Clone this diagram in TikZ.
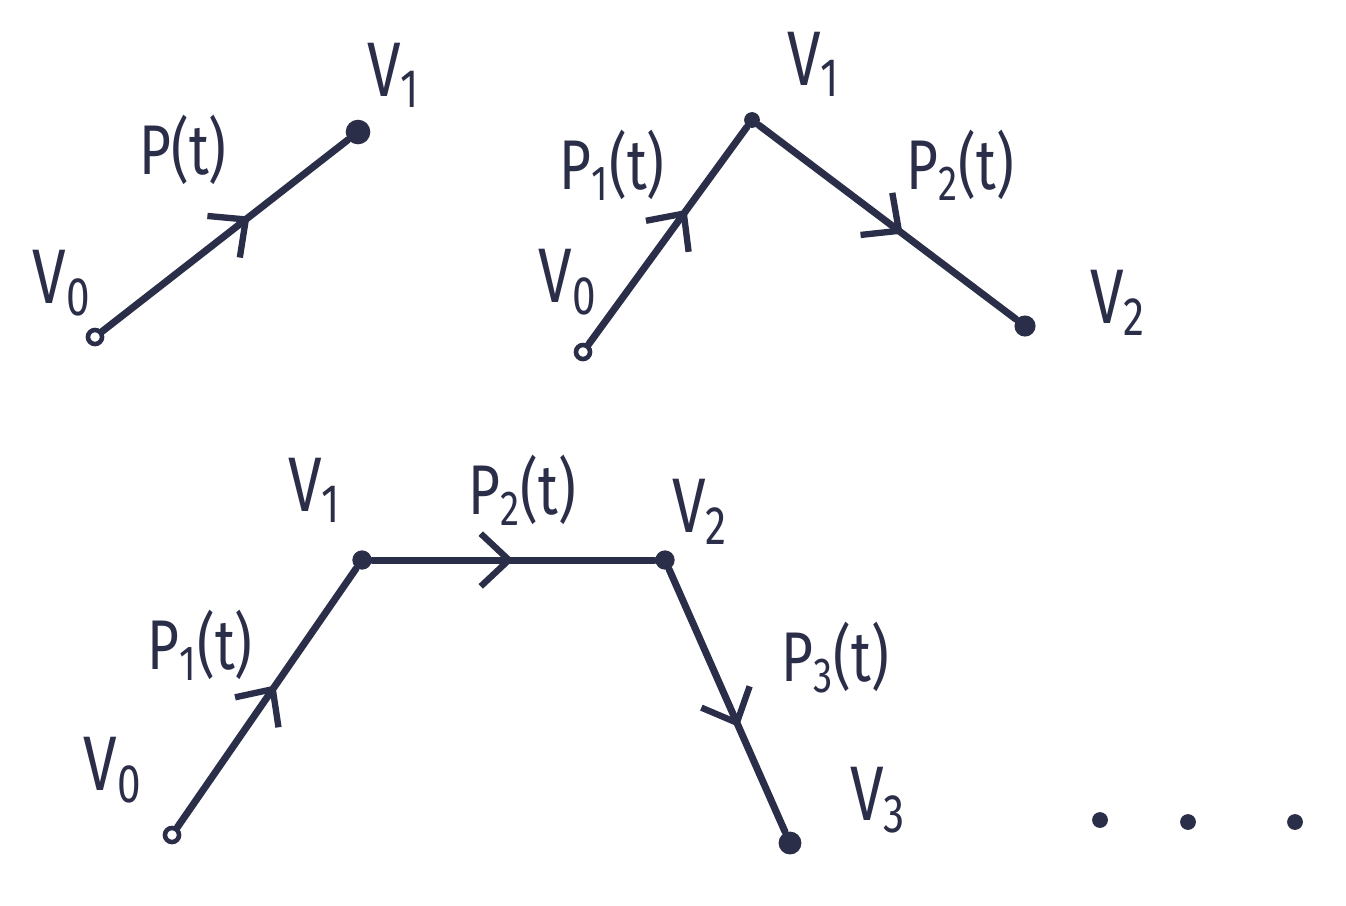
\documentclass[tikz,border=0pt]{standalone}
\usepackage{fontspec}
\usepackage{graphicx}
\setmainfont{Fira Sans}
\usetikzlibrary{decorations.markings,arrows.meta}
\definecolor{ink}{HTML}{2B2E48}
\newcommand{\narrowtext}[1]{\scalebox{0.78}[1]{#1}}
\begin{document}
\begin{tikzpicture}[x=0.01cm,y=-0.01cm,
  seg/.style={draw=ink, line width=2pt, line cap=round, line join=round,
    postaction={decorate},
    decoration={markings, mark=at position #1 with {\arrow{Straight Barb[length=8pt,width=15pt,line width=1.8pt]}}}},
  seg/.default=0.55,
  opendot/.style={circle, draw=ink, line width=1.3pt, fill=white, inner sep=0pt, minimum size=4pt},
  fulldot/.style={circle, fill=ink, inner sep=0pt, minimum size=#1},
  fulldot/.default=6pt,
  lbl/.style={text=ink, font=\fontsize{22}{24}\selectfont, inner sep=0pt},
  plbl/.style={text=ink, font=\fontsize{20}{22}\selectfont, inner sep=0pt}]
\useasboundingbox[fill=white] (0,0) rectangle (1346,905);
% ---------- diagram 1 ----------
\node[opendot] (a0) at (95,337) {};
\node[fulldot=7pt] (a1) at (358,132) {};
\draw[seg=0.6] (a0) -- (a1);
\node[lbl] (la0) at (62,283) {\narrowtext{V\textsubscript{0}}};
\node[lbl] (la1) at (394,75) {\narrowtext{V\textsubscript{1}}};
\node[plbl] (lpa) at (183,150) {\narrowtext{P(t)}};
% ---------- diagram 2 ----------
\node[opendot] (b0) at (583,352) {};
\node[fulldot=4.5pt] (b1) at (752,120) {};
\node[fulldot=6pt] (b2) at (1025,326) {};
\draw[seg=0.62] (b0) -- (b1);
\draw[seg=0.56] (b1) -- (b2);
\node[lbl] (lb0) at (568,282) {\narrowtext{V\textsubscript{0}}};
\node[lbl] (lb1) at (814,64) {\narrowtext{V\textsubscript{1}}};
\node[plbl] (lpb1) at (612,165) {\narrowtext{P\textsubscript{1}(t)}};
\node[plbl] (lpb2) at (960,165) {\narrowtext{P\textsubscript{2}(t)}};
\node[lbl] (lb2) at (1118,303) {\narrowtext{V\textsubscript{2}}};
% ---------- diagram 3 ----------
\node[opendot] (c0) at (172,835) {};
\node[fulldot=5.5pt] (c1) at (362,560) {};
\node[fulldot=5.5pt] (c2) at (665,560) {};
\node[fulldot=6.5pt] (c3) at (790,843) {};
\draw[seg=0.55] (c0) -- (c1);
\draw[seg=0.5] (c1) -- (c2);
\draw[seg=0.6] (c2) -- (c3);
\node[lbl] (lc0) at (113,770) {\narrowtext{V\textsubscript{0}}};
\node[plbl] (lpc1) at (200,645) {\narrowtext{P\textsubscript{1}(t)}};
\node[lbl] (lc1) at (315,490) {\narrowtext{V\textsubscript{1}}};
\node[plbl] (lpc2) at (522,490) {\narrowtext{P\textsubscript{2}(t)}};
\node[lbl] (lc2) at (700,512) {\narrowtext{V\textsubscript{2}}};
\node[plbl] (lpc3) at (835,658) {\narrowtext{P\textsubscript{3}(t)}};
\node[lbl] (lc3) at (878,800) {\narrowtext{V\textsubscript{3}}};
% ---------- dots ----------
\node[fulldot=4.5pt] (d1) at (1100,820) {};
\node[fulldot=4.5pt] (d2) at (1188,822) {};
\node[fulldot=4.5pt] (d3) at (1295,822) {};
\end{tikzpicture}
\end{document}
